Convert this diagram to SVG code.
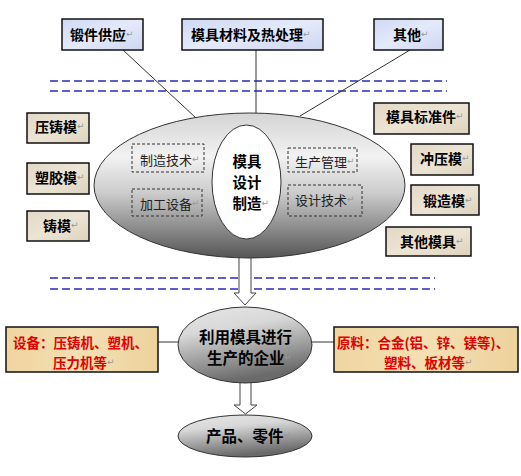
<svg xmlns="http://www.w3.org/2000/svg" width="521" height="476" viewBox="0 0 521 476">
<defs>
<linearGradient id="gBig" x1="0" y1="0" x2="0" y2="1">
<stop offset="0" stop-color="#d4d4d4"/>
<stop offset="0.3" stop-color="#f2f2f2"/>
<stop offset="0.55" stop-color="#cccccc"/>
<stop offset="1" stop-color="#555555"/>
</linearGradient>
<linearGradient id="gSmall" x1="0" y1="0" x2="0.3" y2="1">
<stop offset="0" stop-color="#e6e6e6"/>
<stop offset="0.35" stop-color="#d8d8d8"/>
<stop offset="1" stop-color="#6a6a6a"/>
</linearGradient>
<linearGradient id="gBlue" x1="0" y1="0" x2="1" y2="1">
<stop offset="0" stop-color="#cfd9f5"/>
<stop offset="0.5" stop-color="#e4eafa"/>
<stop offset="1" stop-color="#cdd6f2"/>
</linearGradient>
<linearGradient id="gBeige" x1="0" y1="0" x2="1" y2="1">
<stop offset="0" stop-color="#e2d8c6"/>
<stop offset="0.5" stop-color="#ece4d4"/>
<stop offset="1" stop-color="#ddd2bd"/>
</linearGradient>
<linearGradient id="gTan" x1="0" y1="0" x2="1" y2="0">
<stop offset="0" stop-color="#efd5a0"/>
<stop offset="0.5" stop-color="#f4e0b4"/>
<stop offset="1" stop-color="#ecd29c"/>
</linearGradient>
</defs>
<style>
.lbl{font-family:"Noto Sans CJK SC","Noto Sans",sans-serif;font-weight:bold;font-size:14px;fill:#000;dominant-baseline:central}
.reg{font-family:"Noto Sans CJK SC","Noto Sans",sans-serif;font-size:13px;fill:#222;dominant-baseline:central}
.red{font-family:"Noto Sans CJK SC","Noto Sans",sans-serif;font-weight:bold;font-size:13.5px;fill:#e00000;dominant-baseline:central}
.big{font-family:"Noto Sans CJK SC","Noto Sans",sans-serif;font-weight:bold;font-size:15.5px;fill:#000;dominant-baseline:central}
.mid{font-family:"Noto Sans CJK SC","Noto Sans",sans-serif;font-weight:bold;font-size:14.5px;fill:#000;dominant-baseline:central}
.pm{font-family:"DejaVu Sans",sans-serif;font-size:9px;fill:#999;font-weight:normal}
.bx{stroke:#111;stroke-width:1.5}
.dbx{fill:none;stroke:#333;stroke-width:1;stroke-dasharray:3 2}
.dash{stroke:#2a2ac0;stroke-width:1.5;stroke-dasharray:8 4}
.conn{stroke:#333;stroke-width:1;fill:none}
.arrow{fill:#fff;stroke:#444;stroke-width:1}
</style>

<g id="dashes">
<line class="dash" x1="50" y1="81" x2="447" y2="81"/>
<line class="dash" x1="50" y1="91" x2="447" y2="91"/>
<line class="dash" x1="50" y1="278" x2="435" y2="278"/>
<line class="dash" x1="50" y1="289" x2="435" y2="289"/>
</g>

<g id="connectors">
<line class="conn" x1="123" y1="50" x2="196" y2="118"/>
<line class="conn" x1="256" y1="50" x2="256" y2="114"/>
<line class="conn" x1="410" y1="50" x2="300" y2="116"/>
<line class="conn" x1="158" y1="342" x2="180" y2="342"/>
<line class="conn" x1="311" y1="342" x2="334" y2="342"/>
<path class="arrow" d="M239,255 L251,255 L251,293 L256,293 L245,305 L234,293 L239,293 Z"/>
<path class="arrow" d="M240,382 L251,382 L251,405 L257,405 L245.5,414 L234,405 L240,405 Z"/>
</g>

<g id="top-forging">
<rect class="bx" x="62" y="19" width="81" height="31" fill="url(#gBlue)"/>
<text class="lbl" x="70" y="34">锻件供应<tspan class="pm">↵</tspan></text>
</g>
<g id="top-material">
<rect class="bx" x="182" y="19" width="141" height="31" fill="url(#gBlue)"/>
<text class="lbl" x="191" y="34">模具材料及热处理<tspan class="pm">↵</tspan></text>
</g>
<g id="top-other">
<rect class="bx" x="374" y="19" width="69" height="31" fill="url(#gBlue)"/>
<text class="lbl" x="393" y="34">其他<tspan class="pm">↵</tspan></text>
</g>

<g id="center">
<ellipse cx="249.5" cy="185.5" rx="155.5" ry="72.5" fill="url(#gBig)" stroke="#333" stroke-width="1"/>
<ellipse cx="246.5" cy="182" rx="34.5" ry="57" fill="#fff" stroke="#333" stroke-width="1"/>
<text class="mid" x="232.5" y="160.5">模具</text>
<text class="mid" x="232.5" y="181.5">设计</text>
<text class="mid" x="232.5" y="202.5">制造<tspan class="pm">↵</tspan></text>
</g>
<g id="tech-make">
<rect class="dbx" x="132" y="144" width="72" height="28"/>
<text class="reg" x="140" y="159">制造技术<tspan class="pm">↵</tspan></text>
</g>
<g id="tech-equip">
<rect class="dbx" x="132" y="189" width="70" height="27"/>
<text class="reg" x="140" y="203">加工设备<tspan class="pm">↵</tspan></text>
</g>
<g id="tech-mgmt">
<rect class="dbx" x="288" y="148" width="69" height="24"/>
<text class="reg" x="295" y="161">生产管理<tspan class="pm">↵</tspan></text>
</g>
<g id="tech-design">
<rect class="dbx" x="288" y="185" width="74" height="31"/>
<text class="reg" x="295" y="199">设计技术<tspan class="pm">↵</tspan></text>
</g>

<g id="die-cast">
<rect class="bx" x="27" y="113" width="62" height="30" fill="url(#gBeige)"/>
<text class="lbl" x="35" y="126">压铸模<tspan class="pm">↵</tspan></text>
</g>
<g id="plastic">
<rect class="bx" x="27" y="163" width="62" height="31" fill="url(#gBeige)"/>
<text class="lbl" x="35" y="177">塑胶模<tspan class="pm">↵</tspan></text>
</g>
<g id="casting">
<rect class="bx" x="27" y="211" width="62" height="30" fill="url(#gBeige)"/>
<text class="lbl" x="43" y="225">铸模<tspan class="pm">↵</tspan></text>
</g>

<g id="standard">
<rect class="bx" x="374" y="103" width="95" height="31" fill="url(#gBeige)"/>
<text class="lbl" x="386" y="116">模具标准件<tspan class="pm">↵</tspan></text>
</g>
<g id="stamping">
<rect class="bx" x="411" y="144" width="62" height="31" fill="url(#gBeige)"/>
<text class="lbl" x="420" y="158">冲压模<tspan class="pm">↵</tspan></text>
</g>
<g id="forging-die">
<rect class="bx" x="411" y="185" width="68" height="30" fill="url(#gBeige)"/>
<text class="lbl" x="423" y="200">锻造模<tspan class="pm">↵</tspan></text>
</g>
<g id="other-die">
<rect class="bx" x="386" y="227" width="85" height="29" fill="url(#gBeige)"/>
<text class="lbl" x="400" y="241">其他模具<tspan class="pm">↵</tspan></text>
</g>

<g id="enterprise">
<ellipse cx="245" cy="345" rx="67" ry="38" fill="url(#gSmall)" stroke="#333" stroke-width="1"/>
<text class="big" x="199" y="336">利用模具进行</text>
<text class="big" x="207" y="357">生产的企业<tspan class="pm">↵</tspan></text>
</g>
<g id="equipment">
<rect class="bx" x="6" y="327" width="152" height="45" fill="url(#gTan)"/>
<text class="red" x="13" y="342">设备：压铸机、塑机、</text>
<text class="red" x="53" y="362">压力机等<tspan class="pm">↵</tspan></text>
</g>
<g id="materials">
<rect class="bx" x="334" y="327" width="184" height="45" fill="url(#gTan)"/>
<text class="red" x="337" y="342">原料：合金(铝、锌、镁等)、</text>
<text class="red" x="384" y="362">塑料、板材等<tspan class="pm">↵</tspan></text>
</g>

<g id="product">
<ellipse cx="245" cy="436" rx="67" ry="21" fill="url(#gSmall)" stroke="#333" stroke-width="1"/>
<text class="big" x="206" y="435">产品、零件<tspan class="pm">↵</tspan></text>
</g>
</svg>
